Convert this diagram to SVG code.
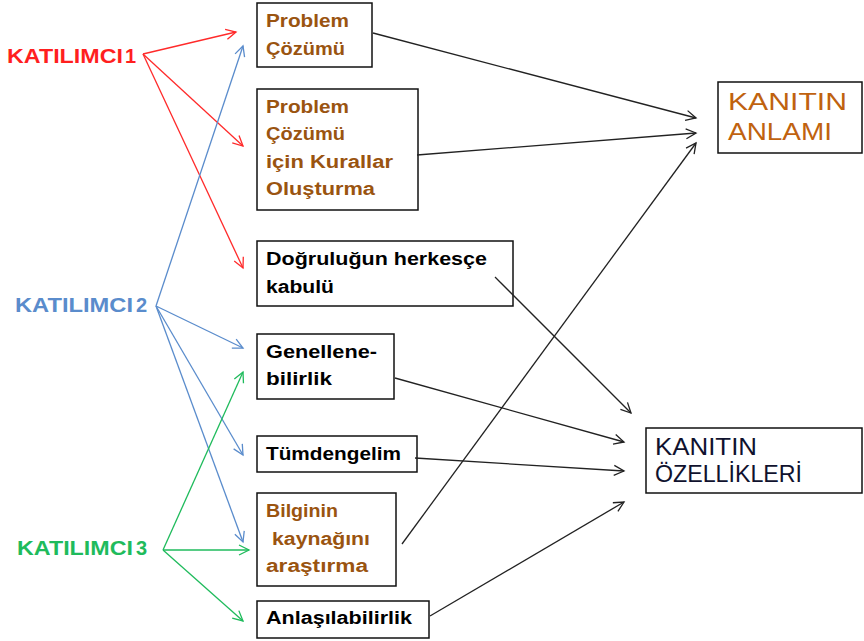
<svg xmlns="http://www.w3.org/2000/svg" width="864" height="641" viewBox="0 0 864 641">
<defs>
<style>
.box{fill:#fff;stroke:#111;stroke-width:1.5}
.t{font-family:"Liberation Sans",Arial,sans-serif;font-weight:bold;font-size:18px}
.br{fill:#9a5410}
.bk{fill:#000}
.big{font-family:"Liberation Sans",Arial,sans-serif;font-size:23px}
.lab{font-family:"Liberation Sans",Arial,sans-serif;font-weight:bold;font-size:20px}
.red{stroke:#ff2a2a;fill:none;stroke-width:1.3}
.blue{stroke:#5a8ccc;fill:none;stroke-width:1.3}
.green{stroke:#1fbb5c;fill:none;stroke-width:1.3}
.blk{stroke:#222;fill:none;stroke-width:1.3}
</style>
<marker id="mr" viewBox="-12 -7 14 14" markerWidth="14" markerHeight="14" refX="0" refY="0" orient="auto" markerUnits="userSpaceOnUse"><path d="M-10,-5 L0,0 L-10,5" fill="none" stroke="#ff2a2a" stroke-width="1.3"/></marker>
<marker id="mb" viewBox="-12 -7 14 14" markerWidth="14" markerHeight="14" refX="0" refY="0" orient="auto" markerUnits="userSpaceOnUse"><path d="M-10,-5 L0,0 L-10,5" fill="none" stroke="#5a8ccc" stroke-width="1.3"/></marker>
<marker id="mg" viewBox="-12 -7 14 14" markerWidth="14" markerHeight="14" refX="0" refY="0" orient="auto" markerUnits="userSpaceOnUse"><path d="M-10,-5 L0,0 L-10,5" fill="none" stroke="#1fbb5c" stroke-width="1.3"/></marker>
<marker id="mk" viewBox="-12 -7 14 14" markerWidth="14" markerHeight="14" refX="0" refY="0" orient="auto" markerUnits="userSpaceOnUse"><path d="M-10,-5 L0,0 L-10,5" fill="none" stroke="#222" stroke-width="1.3"/></marker>
</defs>
<rect width="864" height="641" fill="#fff"/>

<g id="katilimci1"><text class="lab" fill="#ff1f1f" x="7" y="63" textLength="116" lengthAdjust="spacingAndGlyphs">KATILIMCI</text><text class="lab" fill="#ff1f1f" x="125" y="63" font-size="16">1</text></g>
<g id="katilimci2"><text class="lab" fill="#5a8ccc" x="15" y="312" textLength="118" lengthAdjust="spacingAndGlyphs">KATILIMCI</text><text class="lab" fill="#5a8ccc" x="136" y="312" font-size="16">2</text></g>
<g id="katilimci3"><text class="lab" fill="#1fbb5c" x="17" y="555" textLength="116" lengthAdjust="spacingAndGlyphs">KATILIMCI</text><text class="lab" fill="#1fbb5c" x="136" y="555" font-size="16">3</text></g>

<g id="n1"><rect class="box" x="257" y="3" width="115" height="64"/>
<text class="t br" x="266" y="27" textLength="83" lengthAdjust="spacingAndGlyphs">Problem</text>
<text class="t br" x="266" y="55" textLength="79" lengthAdjust="spacingAndGlyphs">Çözümü</text></g>

<g id="n2"><rect class="box" x="257" y="89" width="161" height="121"/>
<text class="t br" x="266" y="113" textLength="83" lengthAdjust="spacingAndGlyphs">Problem</text>
<text class="t br" x="266" y="140" textLength="79" lengthAdjust="spacingAndGlyphs">Çözümü</text>
<text class="t br" x="266" y="168" textLength="127" lengthAdjust="spacingAndGlyphs">için Kurallar</text>
<text class="t br" x="266" y="195" textLength="109" lengthAdjust="spacingAndGlyphs">Oluşturma</text></g>

<g id="n3"><rect class="box" x="257" y="241" width="256" height="65"/>
<text class="t bk" x="266" y="265" textLength="221" lengthAdjust="spacingAndGlyphs">Doğruluğun herkesçe</text>
<text class="t bk" x="266" y="293" textLength="68" lengthAdjust="spacingAndGlyphs">kabulü</text></g>

<g id="n4"><rect class="box" x="257" y="334" width="137" height="65"/>
<text class="t bk" x="266" y="358" textLength="111" lengthAdjust="spacingAndGlyphs">Genellene-</text>
<text class="t bk" x="266" y="385" textLength="66" lengthAdjust="spacingAndGlyphs">bilirlik</text></g>

<g id="n5"><rect class="box" x="257" y="436" width="160" height="36"/>
<text class="t bk" x="266" y="460" textLength="135" lengthAdjust="spacingAndGlyphs">Tümdengelim</text></g>

<g id="n6"><rect class="box" x="257" y="493" width="139" height="93"/>
<text class="t br" x="266" y="517" textLength="72" lengthAdjust="spacingAndGlyphs">Bilginin</text>
<text class="t br" x="272" y="545" textLength="98" lengthAdjust="spacingAndGlyphs">kaynağını</text>
<text class="t br" x="266" y="572" textLength="102" lengthAdjust="spacingAndGlyphs">araştırma</text></g>

<g id="n7"><rect class="box" x="257" y="601" width="172" height="37"/>
<text class="t bk" x="266" y="624" textLength="146" lengthAdjust="spacingAndGlyphs">Anlaşılabilirlik</text></g>

<g id="anlami"><rect class="box" x="718" y="82" width="144" height="71"/>
<text class="big" fill="#c0620f" x="728" y="110" textLength="119" lengthAdjust="spacingAndGlyphs">KANITIN</text>
<text class="big" fill="#c0620f" x="728" y="140" textLength="104" lengthAdjust="spacingAndGlyphs">ANLAMI</text></g>

<g id="ozellikleri"><rect class="box" x="646" y="428" width="216" height="65"/>
<text class="big" fill="#10122e" font-size="20" x="655" y="455" textLength="102" lengthAdjust="spacingAndGlyphs">KANITIN</text>
<text class="big" fill="#10122e" font-size="20" x="655" y="482" textLength="147" lengthAdjust="spacingAndGlyphs">ÖZELLİKLERİ</text></g>

<g id="connectors">
<line class="red" x1="143" y1="54" x2="236" y2="32" marker-end="url(#mr)"/>
<line class="red" x1="143" y1="54" x2="243" y2="146" marker-end="url(#mr)"/>
<line class="red" x1="143" y1="54" x2="243" y2="268" marker-end="url(#mr)"/>
<line class="blue" x1="156" y1="306" x2="243" y2="46" marker-end="url(#mb)"/>
<line class="blue" x1="156" y1="306" x2="243" y2="348" marker-end="url(#mb)"/>
<line class="blue" x1="156" y1="306" x2="243" y2="455" marker-end="url(#mb)"/>
<line class="blue" x1="156" y1="306" x2="243" y2="542" marker-end="url(#mb)"/>
<line class="green" x1="163" y1="550" x2="243" y2="372" marker-end="url(#mg)"/>
<line class="green" x1="163" y1="550" x2="249" y2="550" marker-end="url(#mg)"/>
<line class="green" x1="163" y1="550" x2="243" y2="621" marker-end="url(#mg)"/>
<line class="blk" x1="373" y1="33" x2="696" y2="118" marker-end="url(#mk)"/>
<line class="blk" x1="417" y1="155" x2="696" y2="133" marker-end="url(#mk)"/>
<line class="blk" x1="402" y1="544" x2="696" y2="143" marker-end="url(#mk)"/>
<line class="blk" x1="495" y1="277" x2="631" y2="413" marker-end="url(#mk)"/>
<line class="blk" x1="395" y1="378" x2="624" y2="442" marker-end="url(#mk)"/>
<line class="blk" x1="415" y1="458" x2="624" y2="471" marker-end="url(#mk)"/>
<line class="blk" x1="430" y1="616" x2="624" y2="502" marker-end="url(#mk)"/>
</g>
</svg>
